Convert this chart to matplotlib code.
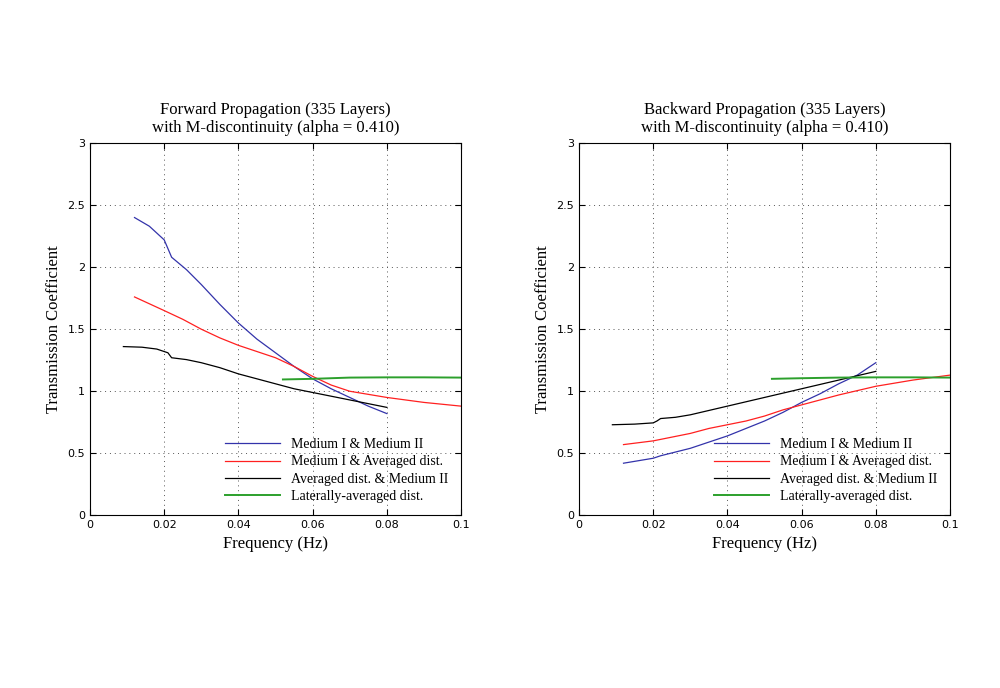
import matplotlib
matplotlib.use("Agg")
import matplotlib.pyplot as plt

# Forward propagation
fwd_blue_f = [0.012, 0.016, 0.02, 0.022, 0.026, 0.03, 0.035, 0.04, 0.045, 0.05, 0.055, 0.06, 0.065, 0.07, 0.075, 0.08]
fwd_blue_v = [2.40, 2.33, 2.22, 2.08, 1.98, 1.86, 1.70, 1.55, 1.42, 1.31, 1.20, 1.10, 1.02, 0.95, 0.88, 0.82]
fwd_red_f = [0.012, 0.02, 0.025, 0.03, 0.035, 0.04, 0.046, 0.05, 0.055, 0.06, 0.065, 0.07, 0.08, 0.09, 0.1]
fwd_red_v = [1.76, 1.65, 1.58, 1.50, 1.43, 1.37, 1.31, 1.27, 1.20, 1.12, 1.05, 1.00, 0.95, 0.91, 0.88]
fwd_blk_f = [0.009, 0.014, 0.018, 0.021, 0.022, 0.026, 0.03, 0.035, 0.04, 0.045, 0.05, 0.055, 0.06, 0.065, 0.07, 0.075, 0.08]
fwd_blk_v = [1.36, 1.355, 1.34, 1.31, 1.27, 1.255, 1.23, 1.19, 1.14, 1.10, 1.06, 1.02, 0.99, 0.96, 0.93, 0.90, 0.87]
fwd_grn_f = [0.052, 0.06, 0.07, 0.08, 0.09, 0.1]
fwd_grn_v = [1.095, 1.10, 1.11, 1.112, 1.112, 1.11]

# Backward propagation
bwd_blue_f = [0.012, 0.016, 0.02, 0.022, 0.026, 0.03, 0.035, 0.04, 0.045, 0.05, 0.055, 0.06, 0.065, 0.07, 0.075, 0.078, 0.08]
bwd_blue_v = [0.42, 0.44, 0.46, 0.48, 0.51, 0.54, 0.59, 0.64, 0.70, 0.76, 0.83, 0.91, 0.98, 1.06, 1.13, 1.19, 1.23]
bwd_red_f = [0.012, 0.02, 0.025, 0.03, 0.035, 0.04, 0.045, 0.05, 0.055, 0.06, 0.065, 0.07, 0.08, 0.09, 0.1]
bwd_red_v = [0.57, 0.60, 0.63, 0.66, 0.70, 0.73, 0.76, 0.80, 0.85, 0.89, 0.93, 0.97, 1.04, 1.09, 1.13]
bwd_blk_f = [0.009, 0.015, 0.02, 0.021, 0.022, 0.026, 0.03, 0.035, 0.04, 0.045, 0.05, 0.055, 0.06, 0.065, 0.07, 0.075, 0.08]
bwd_blk_v = [0.73, 0.735, 0.745, 0.76, 0.78, 0.79, 0.81, 0.845, 0.88, 0.915, 0.95, 0.985, 1.02, 1.055, 1.09, 1.125, 1.16]
bwd_grn_f = [0.052, 0.06, 0.07, 0.08, 0.09, 0.1]
bwd_grn_v = [1.10, 1.105, 1.11, 1.112, 1.112, 1.11]

labels = ["Medium I & Medium II", "Medium I & Averaged dist.",
          "Averaged dist. & Medium II", "Laterally-averaged dist."]
colors = ["#3333aa", "#ff2020", "#000000", "#2ca02c"]
widths = [0.9, 0.9, 0.9, 1.4]
titles = ["Forward Propagation (335 Layers)\nwith M-discontinuity (alpha = 0.410)",
          "Backward Propagation (335 Layers)\nwith M-discontinuity (alpha = 0.410)"]

serif = ["Liberation Serif", "DejaVu Serif"]

fig = plt.figure(figsize=(10, 6.88), dpi=100)
axes = [fig.add_axes([0.090, 0.251, 0.371, 0.541]),
        fig.add_axes([0.579, 0.251, 0.371, 0.541])]

series = [
    [(fwd_blue_f, fwd_blue_v), (fwd_red_f, fwd_red_v), (fwd_blk_f, fwd_blk_v), (fwd_grn_f, fwd_grn_v)],
    [(bwd_blue_f, bwd_blue_v), (bwd_red_f, bwd_red_v), (bwd_blk_f, bwd_blk_v), (bwd_grn_f, bwd_grn_v)],
]

for ax, data, title in zip(axes, series, titles):
    for (f, v), c, lw, lab in zip(data, colors, widths, labels):
        ax.plot(f, v, color=c, linewidth=lw, label=lab)
    ax.set_xlim(0, 0.1)
    ax.set_ylim(0, 3)
    ax.set_xticks([0, 0.02, 0.04, 0.06, 0.08, 0.1])
    ax.set_xticklabels(["0", "0.02", "0.04", "0.06", "0.08", "0.1"])
    ax.set_yticks([0, 0.5, 1, 1.5, 2, 2.5, 3])
    ax.set_yticklabels(["0", "0.5", "1", "1.5", "2", "2.5", "3"])
    ax.tick_params(labelsize=8, direction="in", length=4, top=True, right=True)
    ax.grid(True, linestyle=(0, (1, 4)), color="#555555", linewidth=0.7)
    ax.set_title(title, fontsize=12, family=serif, pad=8)
    ax.set_xlabel("Frequency (Hz)", fontsize=12, family=serif)
    ax.set_ylabel("Transmission Coefficient", fontsize=12, family=serif)
    ax.legend(loc="lower right", frameon=False, prop={"family": serif, "size": 10},
              handlelength=4, labelspacing=0.3, borderaxespad=0.5)

fig.savefig("out.png", dpi=100)
